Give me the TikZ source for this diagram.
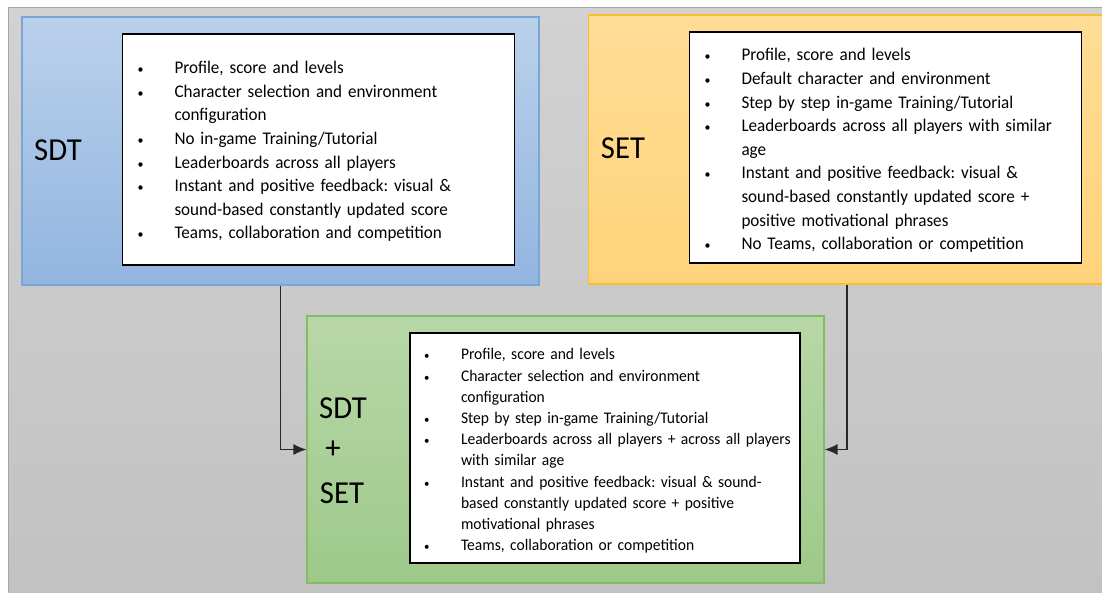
\documentclass[tikz,border=0pt]{standalone}
\usepackage{fontspec}
\setmainfont{Carlito}[WordSpace=0.6, FakeStretch=0.96]
\usepackage{xcolor}
\usetikzlibrary{arrows.meta}
\definecolor{bgColor}{RGB}{194,194,194}
\definecolor{bgTopColor}{RGB}{210,210,210}
\definecolor{bgLineColor}{RGB}{165,165,165}
\definecolor{blueColor}{RGB}{122,165,214}
\definecolor{blueTopColor}{RGB}{186,209,235}
\definecolor{blueBotColor}{RGB}{146,181,224}
\definecolor{orangeColor}{RGB}{250,190,40}
\definecolor{orangeTopColor}{RGB}{255,220,150}
\definecolor{orangeBotColor}{RGB}{255,211,122}
\definecolor{greenColor}{RGB}{130,188,99}
\definecolor{greenTopColor}{RGB}{184,215,168}
\definecolor{greenBotColor}{RGB}{158,201,138}
\definecolor{arrowColor}{RGB}{40,40,40}
\frenchspacing
\newcommand{\bul}{\scalebox{0.7}{\textbullet}}
\newcommand{\listtab}[2]{\raisebox{-#1}[\height][\depth]{\begin{tabular}{@{}p{37pt}@{}l@{}}#2\end{tabular}}}

\begin{document}
\begin{tikzpicture}[x=1pt, y=-1pt,
    outerbox/.style={minimum width=517pt, minimum height=268pt, line width=1.2pt, inner sep=0pt},
    listbox/.style={draw=black, fill=white, line width=1.3pt, minimum width=392pt, minimum height=231pt,
        inner xsep=15pt, inner ysep=0pt, text width=362pt, align=left},
    bigLabel/.style={font=\fontsize{32}{36}\selectfont, inner sep=0pt},
    flow/.style={-{Latex[length=13pt,width=11pt]}, line width=1.3pt, draw=arrowColor}]
    \useasboundingbox (0,0) rectangle (1102,592);
    \clip (0,0) rectangle (1102,592);
    % gray backdrop
    \fill[top color=bgTopColor, bottom color=bgColor] (8,7) rectangle (1102,592);
    \draw[bgLineColor, line width=1.5pt] (8.5,592) |- (1102,7.5);

    % SDT box
    \node[outerbox, draw=blueColor, top color=blueTopColor, bottom color=blueBotColor] (sdt) at (280.5,151) {};
    \node[bigLabel] (sdtLabel) at (58,150) {SDT};
    \node[listbox, font=\fontsize{17.8}{23.6}\selectfont] (sdtList) at (318.5,149.5) {%
        \listtab{2pt}{%
        \bul & Profile, score and levels\\
        \bul & Character selection and environment\\
             & configuration\\
        \bul & No in-game Training/Tutorial\\
        \bul & Leaderboards across all players\\
        \bul & Instant and positive feedback: visual \&\\
             & sound-based constantly updated score\\
        \bul & Teams, collaboration and competition}};

    % SET box
    \node[outerbox, draw=orangeColor, top color=orangeTopColor, bottom color=orangeBotColor, minimum height=269pt] (set) at (847,149.5) {};
    \node[bigLabel] (setLabel) at (623,148) {SET};
    \node[listbox, font=\fontsize{17.8}{23.6}\selectfont] (setList) at (885.5,147.5) {%
        \listtab{3pt}{%
        \bul & Profile, score and levels\\
        \bul & Default character and environment\\
        \bul & Step by step in-game Training/Tutorial\\
        \bul & Leaderboards across all players with similar\\
             & age\\
        \bul & Instant and positive feedback: visual \&\\
             & sound-based constantly updated score +\\
             & positive motivational phrases\\
        \bul & No Teams, collaboration or competition}};

    % SDT + SET box
    \node[outerbox, draw=greenColor, top color=greenTopColor, bottom color=greenBotColor, minimum height=267pt] (mix) at (565.5,449.5) {};
    \node[bigLabel] (mixSdt) at (343,408) {SDT};
    \node[bigLabel] (mixPlus) at (333,450) {+};
    \node[bigLabel] (mixSet) at (342,493) {SET};
    \node[listbox, font=\fontsize{16.2}{21.2}\selectfont, minimum width=390pt, minimum height=230pt, inner xsep=14pt] (mixList) at (605,448) {%
        \listtab{3pt}{%
        \bul & Profile, score and levels\\
        \bul & Character selection and environment\\
             & configuration\\
        \bul & Step by step in-game Training/Tutorial\\
        \bul & Leaderboards across all players + across all players\\
             & with similar age\\
        \bul & Instant and positive feedback: visual \& sound-\\
             & based constantly updated score + positive\\
             & motivational phrases\\
        \bul & Teams, collaboration or competition}};

    % connectors
    \draw[flow] (sdt.south) |- (mix.west);
    \draw[flow] (set.south) |- (mix.east);
\end{tikzpicture}
\end{document}
